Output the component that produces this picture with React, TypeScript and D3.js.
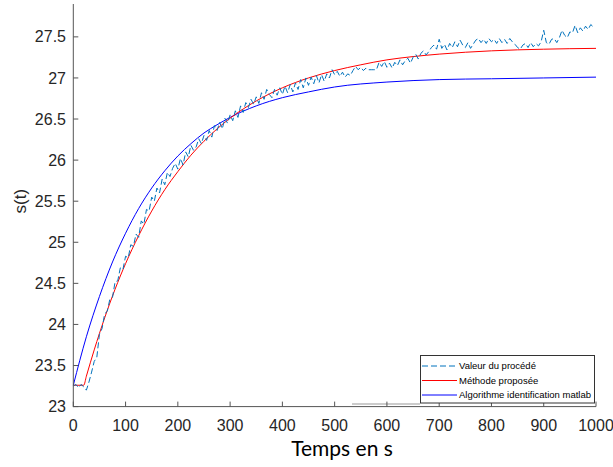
import React from 'react';
import * as d3 from 'd3';

const xTicks = [0, 100, 200, 300, 400, 500, 600, 700, 800, 900, 1000];
const yTicks = [23, 23.5, 24, 24.5, 25, 25.5, 26, 26.5, 27, 27.5];
const yTickLabels = ['23', '23.5', '24', '24.5', '25', '25.5', '26', '26.5', '27', '27.5'];

// Process measurement, sampled every 5 s from t = 0
const processStep = 5;
const processValues = [
  23.25, 23.27, 23.23, 23.27, 23.24, 23.20, 23.30, 23.42, 23.55, 23.60,
  23.88, 23.95, 24.13, 24.16, 24.31, 24.33, 24.52, 24.53, 24.69, 24.67,
  24.83, 24.81, 24.97, 24.95, 25.10, 25.06, 25.26, 25.22, 25.40, 25.38,
  25.55, 25.50, 25.66, 25.60, 25.77, 25.70, 25.85, 25.80, 25.90, 25.96,
  25.89, 26.02, 25.94, 26.10, 26.04, 26.18, 26.12, 26.16, 26.26, 26.20,
  26.30, 26.24, 26.36, 26.28, 26.42, 26.36, 26.46, 26.38, 26.51, 26.45,
  26.55, 26.48, 26.60, 26.52, 26.66, 26.58, 26.70, 26.64, 26.74, 26.68,
  26.77, 26.69, 26.82, 26.74, 26.86, 26.80, 26.76, 26.86, 26.79, 26.88,
  26.80, 26.90, 26.82, 26.92, 26.83, 26.94, 26.86, 26.98, 26.88, 27.00,
  26.91, 27.01, 26.93, 27.03, 26.94, 27.04, 26.96, 27.05, 27.00, 27.10,
  27.04, 27.08, 27.02, 27.07, 27.01, 27.05, 27.03, 27.09, 27.14, 27.10,
  27.13, 27.09, 27.12, 27.10, 27.10, 27.10, 27.10, 27.19, 27.14, 27.20,
  27.13, 27.18, 27.12, 27.19, 27.15, 27.22, 27.16, 27.21, 27.24, 27.18,
  27.25, 27.29, 27.23, 27.30, 27.33, 27.28, 27.32, 27.37, 27.40, 27.35,
  27.47, 27.36, 27.41, 27.34, 27.42, 27.37, 27.44, 27.38, 27.46, 27.40,
  27.37, 27.43, 27.36, 27.41, 27.46, 27.48, 27.43, 27.47, 27.42, 27.48,
  27.44, 27.47, 27.42, 27.48, 27.43, 27.47, 27.42, 27.48, 27.44, 27.41,
  27.37, 27.35, 27.40, 27.42, 27.37, 27.43, 27.38, 27.42, 27.39, 27.44,
  27.58, 27.43, 27.41, 27.47, 27.48, 27.43, 27.49, 27.58, 27.52, 27.49,
  27.56, 27.55, 27.64, 27.55, 27.61, 27.57, 27.63, 27.59, 27.65, 27.62,
];

// Proposed method model response
const redTimes = [0, 20, 25, 40, 60, 80, 100, 125, 150, 175, 200, 225, 250, 275, 300, 350, 400, 450, 500, 550, 600, 650, 700, 800, 900, 1000];
const redValues = [23.26, 23.26, 23.37, 23.69, 24.08, 24.43, 24.74, 25.08, 25.38, 25.64, 25.86, 26.06, 26.23, 26.38, 26.51, 26.72, 26.88, 27.0, 27.09, 27.16, 27.22, 27.26, 27.29, 27.33, 27.35, 27.36];

// Matlab identification model response
const blueTimes = [0, 25, 50, 75, 100, 125, 150, 175, 200, 225, 250, 275, 300, 350, 400, 450, 500, 600, 700, 800, 900, 1000];
const blueValues = [23.26, 23.85, 24.34, 24.76, 25.11, 25.41, 25.66, 25.87, 26.05, 26.2, 26.33, 26.43, 26.52, 26.66, 26.76, 26.83, 26.89, 26.95, 26.98, 26.99, 27.0, 27.01];

const legendLabels = ['Valeur du procédé', 'Méthode proposée', 'Algorithme identification matlab'];
const legendColors = ['#0072BD', '#FF0000', '#0000FF'];
const legendDash = ['6,3', null, null];

export default function App() {
  const W = 613;
  const H = 467;
  const x = d3.scaleLinear().domain([0, 1000]).range([73.3, 596]);
  const y = d3.scaleLinear().domain([23, 27.9]).range([406.6, 4]);

  const line = d3
    .line<[number, number]>()
    .x((d) => x(d[0]))
    .y((d) => y(d[1]));
  const smooth = d3
    .line<[number, number]>()
    .x((d) => x(d[0]))
    .y((d) => y(d[1]))
    .curve(d3.curveMonotoneX);

  const procPts: [number, number][] = processValues.map((v, i) => [i * processStep, v]);
  const redPts: [number, number][] = redTimes.map((t, i) => [t, redValues[i]]);
  const bluePts: [number, number][] = blueTimes.map((t, i) => [t, blueValues[i]]);

  const axisColor = '#555';
  const font = '"Liberation Sans", Arial, sans-serif';
  const x0 = x(0);
  const y0 = y(23);

  const legX = 420.5;
  const legY = 355.5;
  const legW = 174;
  const legH = 47.5;
  const rowY = [366, 380.5, 395];

  return (
    <svg
      width={W}
      height={H}
      style={{ position: 'absolute', left: 0, top: 0, background: '#fff' }}
      fontFamily={font}
    >
      <rect x={0} y={0} width={W} height={H} fill="#fff" />
      {/* data */}
      <path d={smooth(bluePts) || ''} fill="none" stroke="#0000FF" strokeWidth={1} />
      <path d={smooth(redPts) || ''} fill="none" stroke="#FF0000" strokeWidth={1} />
      <path
        d={line(procPts) || ''}
        fill="none"
        stroke="#0072BD"
        strokeWidth={1}
        strokeDasharray="6,3"
      />
      {/* axes */}
      <line x1={x0} y1={y(27.9)} x2={x0} y2={y0 + 0.5} stroke={axisColor} strokeWidth={1} />
      <line x1={x0} y1={y0} x2={x(1000)} y2={y0} stroke={axisColor} strokeWidth={1} />
      <line x1={352} y1={404} x2={420} y2={404} stroke="#999" strokeWidth={1} />
      {xTicks.map((t) => (
        <g key={'xt' + t}>
          <line x1={x(t)} x2={x(t)} y1={y0} y2={y0 - 5} stroke={axisColor} strokeWidth={1} />
          <text x={x(t)} y={431} textAnchor="middle" fontSize={16} fill="#262626">
            {t}
          </text>
        </g>
      ))}
      {yTicks.map((v, i) => (
        <g key={'yt' + v}>
          <line x1={x0} x2={x0 + 5} y1={y(v)} y2={y(v)} stroke={axisColor} strokeWidth={1} />
          <text x={66} y={y(v)} dy="0.35em" textAnchor="end" fontSize={16} fill="#262626">
            {yTickLabels[i]}
          </text>
        </g>
      ))}
      {/* axis labels */}
      <text
        transform={`translate(26, ${y(25.5)}) rotate(-90)`}
        textAnchor="middle"
        fontSize={17}
        fill="#262626"
      >
        s(t)
      </text>
      <text
        x={342}
        y={456}
        textAnchor="middle"
        fontSize={21}
        fontFamily='Lato, "Open Sans", sans-serif'
        fill="#000"
      >
        Temps en s
      </text>
      {/* legend */}
      <rect x={legX} y={legY} width={legW} height={legH} fill="#fff" stroke="#333" strokeWidth={1} />
      {legendLabels.map((lab, i) => (
        <g key={lab}>
          <line
            x1={422}
            x2={457}
            y1={rowY[i]}
            y2={rowY[i]}
            stroke={legendColors[i]}
            strokeWidth={1}
            strokeDasharray={legendDash[i] || undefined}
          />
          <text x={459} y={rowY[i]} dy="0.35em" fontSize={9.5} fill="#000">
            {lab}
          </text>
        </g>
      ))}
    </svg>
  );
}
